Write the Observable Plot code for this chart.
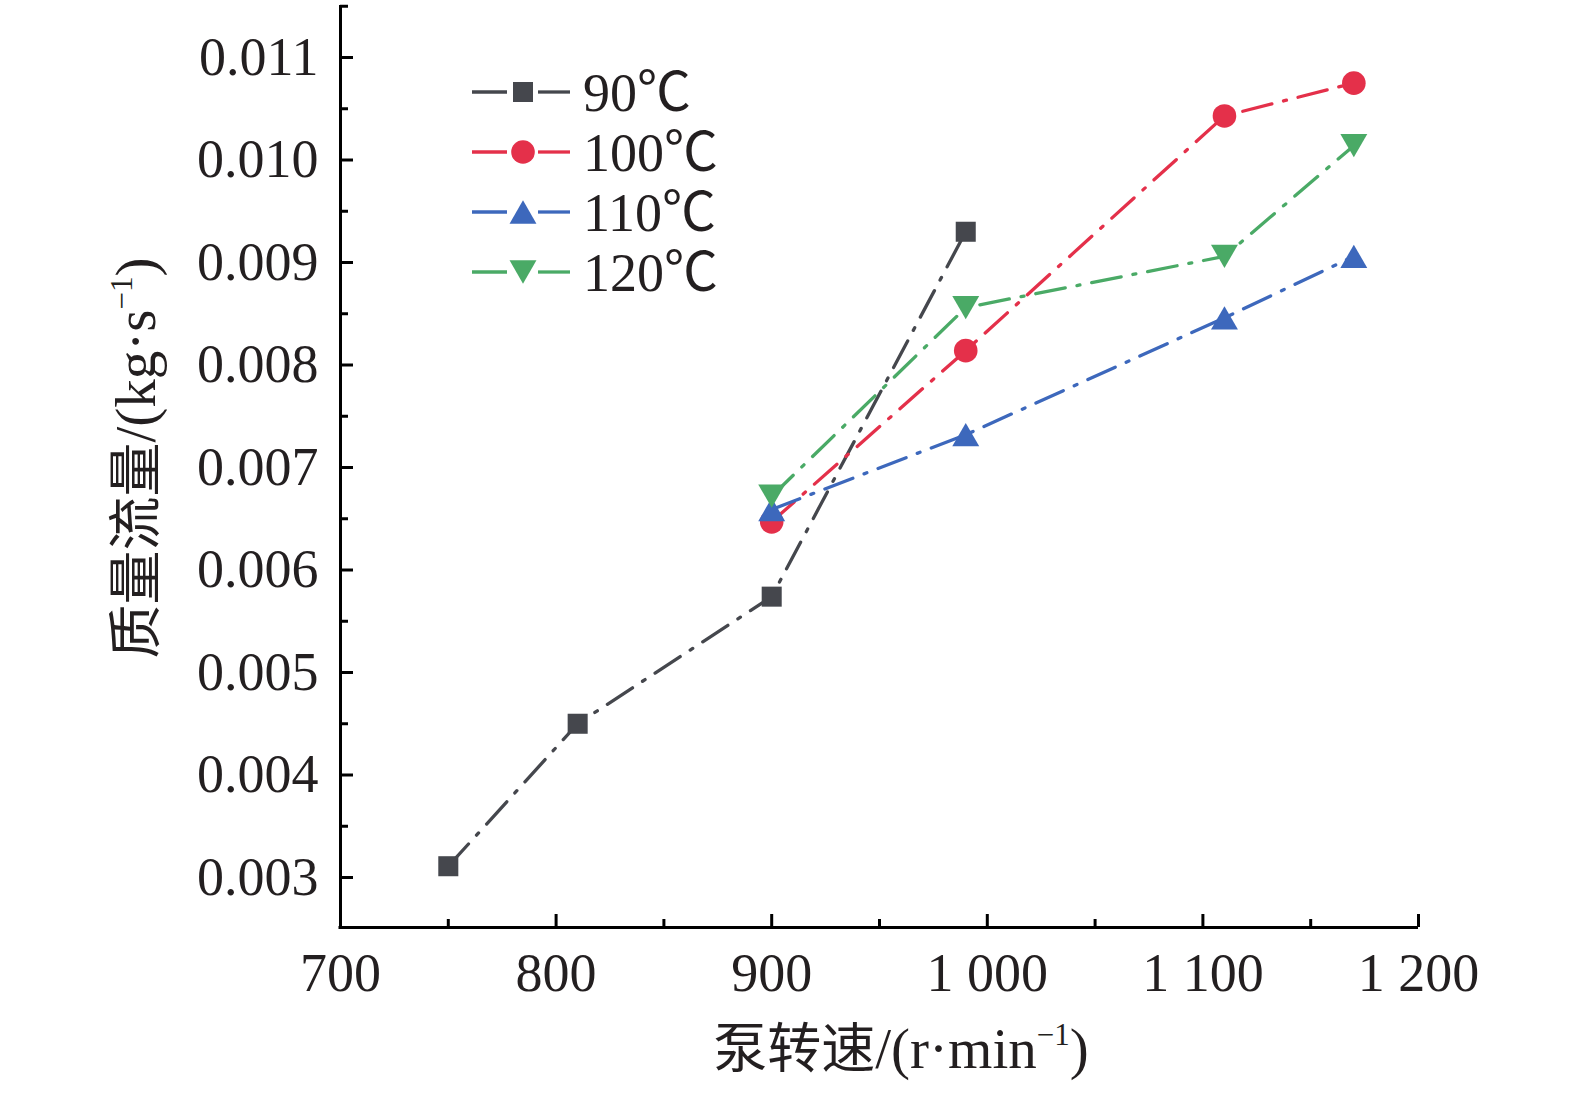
<!DOCTYPE html>
<html>
<head>
<meta charset="utf-8">
<script src="https://cdn.jsdelivr.net/npm/d3@7"></script>
<script src="https://cdn.jsdelivr.net/npm/@observablehq/plot@0.6"></script>
<style>
  html, body { margin: 0; padding: 0; background: #fff; overflow: hidden; width: 1575px; height: 1093px; }
  #wrap { position: relative; width: 1575px; height: 1093px; overflow: hidden; font-family: "Liberation Serif", "Noto Sans CJK SC", serif; color: #231f20; }
  #chart { width: 1575px; height: 1093px; }
  #chart svg { display: block; max-width: none !important; width: 1575px; height: 1093px; }
  #xlabel { position: absolute; left: 901px; top: 1048px; font-size: 54px; line-height: 1; white-space: nowrap; transform: translate(-50%, -50%); }
  #ylabel { position: absolute; left: 135px; top: 458px; font-size: 54px; line-height: 1; white-space: nowrap; transform: translate(-50%, -50%) rotate(-90deg); }
  .lat { font-size: 57px; }
  sup { font-size: 31px; vertical-align: 0; position: relative; top: -23px; }
</style>
</head>
<body>
<div id="wrap">
  <div id="chart"></div>
  <div id="xlabel">泵转速<span class="lat">/(r·min<sup>−1</sup>)</span></div>
  <div id="ylabel">质量流量<span class="lat">/(kg·s<sup>−1</sup>)</span></div>
</div>
<script>
// ---- data ----
const speeds90 = [750, 810, 900, 990];
const flow90   = [0.00311, 0.00450, 0.00574, 0.00930];
const speeds   = [900, 990, 1110, 1170];
const flow100  = [0.00647, 0.00814, 0.01043, 0.01075];
const flow110  = [0.00659, 0.00732, 0.00846, 0.00906];
const flow120  = [0.00672, 0.00856, 0.00906, 0.01014];
const seriesNames  = ["90℃", "100℃", "110℃", "120℃"];
const seriesColors = ["#45474d", "#e4304a", "#3d68bc", "#4aaa66"];
const xTicks = [700, 800, 900, 1000, 1100, 1200];
const xMinor = [750, 850, 950, 1050, 1150];
const yTicks = [0.003, 0.004, 0.005, 0.006, 0.007, 0.008, 0.009, 0.010, 0.011];
const yMinor = [0.0035, 0.0045, 0.0055, 0.0065, 0.0075, 0.0085, 0.0095, 0.0105, 0.0115];

// ---- build table ----
const rows = [];
speeds90.forEach((s, i) => rows.push({series: seriesNames[0], speed: s, flow: flow90[i]}));
[flow100, flow110, flow120].forEach((arr, k) =>
  speeds.forEach((s, i) => rows.push({series: seriesNames[k + 1], speed: s, flow: arr[i]})));

const triangleDown = {
  draw(context, size) {
    const side = Math.sqrt(size * 4 / Math.sqrt(3));
    const h = side * Math.sqrt(3) / 2;
    context.moveTo(-side / 2, -h / 2);
    context.lineTo(side / 2, -h / 2);
    context.lineTo(0, h / 2);
    context.closePath();
  }
};
const triangleUp = {
  draw(context, size) {
    const side = Math.sqrt(size * 4 / Math.sqrt(3));
    const h = side * Math.sqrt(3) / 2;
    context.moveTo(-side / 2, h / 2);
    context.lineTo(side / 2, h / 2);
    context.lineTo(0, -h / 2);
    context.closePath();
  }
};
const symbols = ["square", "circle", triangleUp, triangleDown];
const radii = [11.3, 11.8, 10, 10];

const W = 1575, H = 1093;
const mL = 340, mR = 157, mT = 5, mB = 166;
const plotW = W - mL - mR, plotH = H - mT - mB;
const yMin = 0.003 - 50 / 102.5 * 0.001;
const yMax = yMin + plotH / 102.5 * 0.001;

const xFmtLocale = d3.formatLocale({decimal: ".", thousands: " ", grouping: [3], currency: ["", ""]});
const xFmt = xFmtLocale.format(",d");

const dash = "30,12,3,12";
const lineW = 3.3;

const marks = [];
// axes lines
marks.push(Plot.ruleX([700], {stroke: "#000", strokeWidth: 3, y1: yMin, y2: yMax}));
marks.push(Plot.ruleY([yMin], {stroke: "#000", strokeWidth: 3, x1: 700 - 0.7, x2: 1200}));
// inward ticks
marks.push(Plot.tickY(yTicks, {y: d => d, stroke: "#000", strokeWidth: 3, insetRight: plotW - 13}));
marks.push(Plot.tickY(yMinor, {y: d => d, stroke: "#000", strokeWidth: 3, insetRight: plotW - 8}));
marks.push(Plot.tickX(xTicks, {x: d => d, stroke: "#000", strokeWidth: 3, insetTop: plotH - 13}));
marks.push(Plot.tickX(xMinor, {x: d => d, stroke: "#000", strokeWidth: 3, insetTop: plotH - 8}));
// tick labels
marks.push(Plot.axisY({ticks: yTicks, tickSize: 0, tickPadding: 22, tickFormat: d3.format(".3f"), label: null, fontSize: 54, fill: "#231f20"}));
marks.push(Plot.axisX({ticks: xTicks, tickSize: 0, tickPadding: 25, tickFormat: xFmt, label: null, fontSize: 54, fill: "#231f20"}));

seriesNames.forEach((name, k) => {
  const data = rows.filter(r => r.series === name);
  marks.push(Plot.line(data, {x: "speed", y: "flow", stroke: seriesColors[k], strokeWidth: lineW, strokeDasharray: dash}));
});
seriesNames.forEach((name, k) => {
  const data = rows.filter(r => r.series === name);
  marks.push(Plot.dot(data, {x: "speed", y: "flow", fill: seriesColors[k], stroke: "none", symbol: symbols[k], r: radii[k]}));
});

const chart = Plot.plot({
  width: W, height: H,
  marginLeft: mL, marginRight: mR, marginTop: mT, marginBottom: mB,
  x: {domain: [700, 1200]},
  y: {domain: [yMin, yMax]},
  style: {fontFamily: '"Liberation Serif", "Noto Sans CJK SC", serif', background: "#fff", overflow: "visible", maxWidth: "none"},
  marks
});
document.getElementById("chart").appendChild(chart);

// legend
const svg = d3.select(chart);
const lg = svg.append("g").attr("font-family", '"Liberation Serif", "Noto Sans CJK SC", serif').attr("text-anchor", "start");
seriesNames.forEach((name, k) => {
  const cy = 92 + k * 60;
  const g = lg.append("g");
  g.append("line").attr("x1", 472).attr("x2", 507).attr("y1", cy).attr("y2", cy)
    .attr("stroke", seriesColors[k]).attr("stroke-width", lineW);
  g.append("line").attr("x1", 538).attr("x2", 570).attr("y1", cy).attr("y2", cy)
    .attr("stroke", seriesColors[k]).attr("stroke-width", lineW);
  const sym = typeof symbols[k] === "string"
    ? (symbols[k] === "square" ? d3.symbolSquare : d3.symbolCircle)
    : symbols[k];
  g.append("path").attr("transform", `translate(523,${cy})`)
    .attr("d", d3.symbol(sym, Math.PI * radii[k] * radii[k])())
    .attr("fill", seriesColors[k]);
  g.append("text").attr("x", 583).attr("y", cy).attr("dy", "0.36em")
    .attr("font-size", 54).attr("fill", "#231f20").text(name);
});
</script>
</body>
</html>
